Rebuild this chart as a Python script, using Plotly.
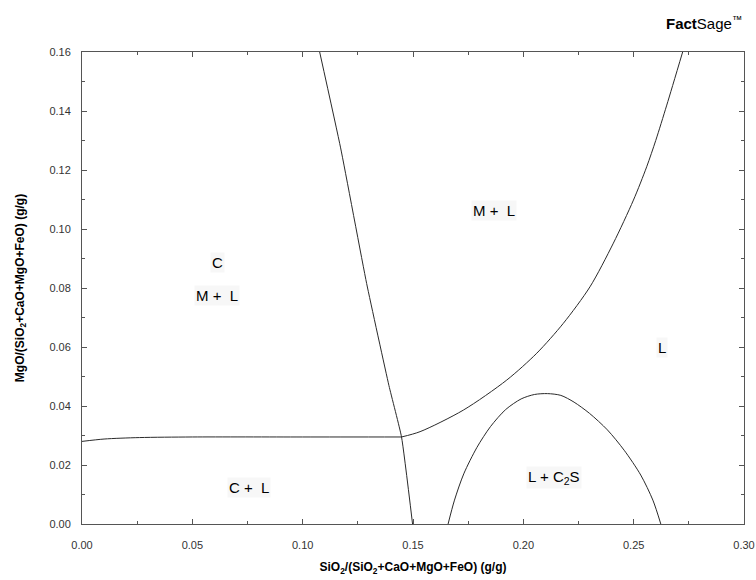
import plotly.graph_objects as go

# Boundary curves (SiO2 fraction, MgO fraction)
c_boundary_x = [0.000, 0.010, 0.026, 0.050, 0.100, 0.1448]
c_boundary_y = [0.0280, 0.0288, 0.0293, 0.0295, 0.0295, 0.0295]

m_boundary_x = [0.1077, 0.1172, 0.1290, 0.1391, 0.1448, 0.1498]
m_boundary_y = [0.1600, 0.1275, 0.0815, 0.0469, 0.0295, 0.0000]

ml_l_x = [0.1448, 0.1532, 0.1728, 0.1925, 0.2061, 0.2181, 0.2302, 0.2408, 0.2499, 0.2559, 0.2600, 0.2650, 0.2722]
ml_l_y = [0.0295, 0.0313, 0.0386, 0.0488, 0.0579, 0.0680, 0.0804, 0.0952, 0.1098, 0.1211, 0.1300, 0.1420, 0.1600]

dome_x = [0.1659, 0.1688, 0.1730, 0.1790, 0.1851, 0.1920, 0.1990, 0.2050, 0.2109, 0.2170, 0.2230, 0.2300, 0.2381, 0.2457, 0.2532, 0.2587, 0.2623]
dome_y = [0.0000, 0.0081, 0.0170, 0.0260, 0.0330, 0.0388, 0.0424, 0.0439, 0.0442, 0.0436, 0.0413, 0.0375, 0.0319, 0.0250, 0.0166, 0.0081, 0.0000]

# Region labels
label_text = ["M +  L", "C", "M +  L", "L", "C +  L", "L + C<sub>2</sub>S"]
label_x = [0.1865, 0.0613, 0.0613, 0.263, 0.0758, 0.2137]
label_y = [0.1064, 0.0885, 0.0775, 0.0597, 0.0125, 0.0156]

fig = go.Figure()
curves = [
    (c_boundary_x, c_boundary_y, 0.8),
    (m_boundary_x, m_boundary_y, 0.4),
    (ml_l_x, ml_l_y, 0.8),
    (dome_x, dome_y, 0.8),
]
for xs, ys, sm in curves:
    fig.add_trace(go.Scatter(x=xs, y=ys, mode="lines",
                             line=dict(color="#2a2a2a", width=1, shape="spline", smoothing=sm),
                             showlegend=False, hoverinfo="skip"))

for t, x, y in zip(label_text, label_x, label_y):
    fig.add_annotation(x=x, y=y, text=t, showarrow=False,
                       font=dict(family="Liberation Sans, Arial", size=15, color="#000"),
                       bgcolor="#f7f7f7")

fig.add_annotation(xref="paper", yref="paper", x=1.0, y=1.0, yshift=30, xanchor="right", yanchor="middle",
                   text="<b>Fact</b>Sage<sup>™</sup>", showarrow=False,
                   font=dict(family="Liberation Sans, Arial", size=15, color="#000"))

axis_common = dict(
    showline=True, linecolor="#555", linewidth=1, mirror="ticks",
    ticks="inside", ticklen=5, tickcolor="#555", tickwidth=1,
    showgrid=False, zeroline=False, tickformat=".2f", automargin=False,
    tickfont=dict(family="Liberation Sans, Arial", size=11, color="#333"),
)

fig.update_xaxes(axis_common, range=[0, 0.30], dtick=0.05, ticklabelstandoff=11,
                 minor=dict(ticks="inside", ticklen=3, dtick=0.025, tickcolor="#555"),
                 title=dict(text="<b>SiO<sub>2</sub>/(SiO<sub>2</sub>+CaO+MgO+FeO) (g/g)</b>",
                            font=dict(family="Liberation Sans, Arial", size=12, color="#000"), standoff=12))
fig.update_yaxes(axis_common, range=[0, 0.16], dtick=0.02, ticklabelstandoff=8,
                 minor=dict(ticks="inside", ticklen=3, dtick=0.01, tickcolor="#555"),
                 title=dict(text="<b>MgO/(SiO<sub>2</sub>+CaO+MgO+FeO) (g/g)</b>",
                            font=dict(family="Liberation Sans, Arial", size=12, color="#000"), standoff=22))

fig.update_layout(width=756, height=580, margin=dict(l=82, r=12, t=52, b=56),
                  plot_bgcolor="white", paper_bgcolor="white")

fig.write_html("out.html", config={"displayModeBar": False},
               post_script="document.body.style.margin='0';document.body.style.overflow='hidden';")
